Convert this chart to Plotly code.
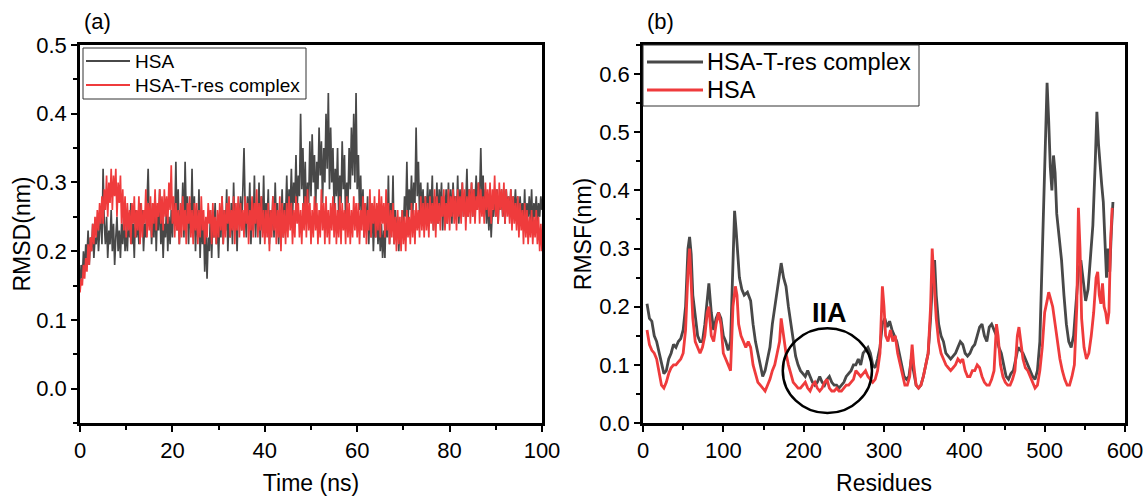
import plotly.graph_objects as go

# ---------------- Panel (a): RMSD vs time (0.25 ns sampling) ----------------
rmsd_hsa = [
    0.15, 0.18, 0.16, 0.20, 0.17, 0.21, 0.19, 0.23, 0.18, 0.22, 0.20, 0.24, 0.19, 0.22, 0.21, 0.25, 0.20, 0.23, 0.26, 0.21,
    0.32, 0.24, 0.21, 0.25, 0.19, 0.23, 0.21, 0.26, 0.20, 0.24, 0.18, 0.22, 0.25, 0.20, 0.23, 0.19, 0.24, 0.21, 0.26, 0.20,
    0.23, 0.20, 0.25, 0.22, 0.27, 0.21, 0.24, 0.19, 0.26, 0.22, 0.25, 0.21, 0.27, 0.23, 0.26, 0.20, 0.24, 0.22, 0.28, 0.32,
    0.24, 0.27, 0.21, 0.25, 0.22, 0.28, 0.20, 0.26, 0.23, 0.29, 0.21, 0.25, 0.19, 0.24, 0.22, 0.27, 0.20, 0.25, 0.21, 0.26,
    0.22, 0.27, 0.24, 0.33, 0.23, 0.29, 0.21, 0.26, 0.24, 0.30, 0.22, 0.33, 0.25, 0.28, 0.21, 0.27, 0.23, 0.32, 0.22, 0.28,
    0.20, 0.26, 0.22, 0.29, 0.19, 0.25, 0.21, 0.24, 0.17, 0.23, 0.16, 0.22, 0.20, 0.26, 0.19, 0.25, 0.22, 0.27, 0.21, 0.24,
    0.19, 0.25, 0.22, 0.28, 0.21, 0.26, 0.23, 0.29, 0.20, 0.25, 0.22, 0.27, 0.21, 0.30, 0.23, 0.26, 0.20, 0.27, 0.24, 0.28,
    0.23, 0.29, 0.35, 0.26, 0.22, 0.28, 0.24, 0.30, 0.21, 0.27, 0.23, 0.31, 0.22, 0.26, 0.24, 0.30, 0.21, 0.28, 0.23, 0.31,
    0.22, 0.27, 0.24, 0.29, 0.21, 0.26, 0.23, 0.28, 0.22, 0.30, 0.24, 0.27, 0.21, 0.26, 0.23, 0.29, 0.22, 0.27, 0.25, 0.31,
    0.24, 0.29, 0.26, 0.32, 0.25, 0.30, 0.27, 0.34, 0.26, 0.31, 0.28, 0.40, 0.29, 0.35, 0.26, 0.33, 0.24, 0.30, 0.27, 0.36,
    0.28, 0.37, 0.30, 0.34, 0.26, 0.33, 0.29, 0.38, 0.31, 0.36, 0.27, 0.35, 0.30, 0.40, 0.32, 0.43, 0.29, 0.38, 0.30, 0.35,
    0.26, 0.32, 0.28, 0.35, 0.25, 0.31, 0.27, 0.36, 0.29, 0.34, 0.24, 0.30, 0.27, 0.35, 0.29, 0.38, 0.31, 0.40, 0.30, 0.43,
    0.29, 0.34, 0.26, 0.31, 0.24, 0.29, 0.22, 0.27, 0.23, 0.28, 0.21, 0.26, 0.22, 0.27, 0.20, 0.25, 0.22, 0.26, 0.21, 0.25,
    0.20, 0.24, 0.19, 0.23, 0.19, 0.26, 0.22, 0.31, 0.21, 0.27, 0.23, 0.31, 0.21, 0.26, 0.22, 0.25, 0.20, 0.24, 0.21, 0.26,
    0.23, 0.28, 0.25, 0.33, 0.24, 0.29, 0.26, 0.31, 0.25, 0.30, 0.27, 0.38, 0.28, 0.33, 0.25, 0.30, 0.26, 0.29, 0.24, 0.28,
    0.25, 0.30, 0.24, 0.29, 0.26, 0.31, 0.23, 0.28, 0.25, 0.30, 0.24, 0.29, 0.26, 0.30, 0.23, 0.28, 0.25, 0.29, 0.24, 0.30,
    0.25, 0.29, 0.24, 0.30, 0.26, 0.28, 0.25, 0.31, 0.24, 0.29, 0.26, 0.30, 0.25, 0.28, 0.27, 0.32, 0.25, 0.29, 0.26, 0.30,
    0.25, 0.29, 0.27, 0.31, 0.26, 0.30, 0.28, 0.35, 0.27, 0.31, 0.25, 0.29, 0.24, 0.28, 0.23, 0.27, 0.22, 0.26, 0.25, 0.29,
    0.25, 0.29, 0.24, 0.28, 0.26, 0.29, 0.25, 0.28, 0.24, 0.29, 0.26, 0.28, 0.25, 0.29, 0.24, 0.28, 0.26, 0.29, 0.25, 0.28,
    0.24, 0.28, 0.25, 0.27, 0.24, 0.29, 0.23, 0.27, 0.25, 0.28, 0.24, 0.29, 0.23, 0.27, 0.25, 0.28, 0.24, 0.27, 0.25, 0.28,
    0.26,
]

rmsd_complex = [
    0.14, 0.16, 0.15, 0.18, 0.16, 0.19, 0.17, 0.21, 0.18, 0.22, 0.20, 0.24, 0.21, 0.25, 0.22, 0.26, 0.23, 0.27, 0.24, 0.28,
    0.24, 0.29, 0.26, 0.31, 0.25, 0.30, 0.27, 0.32, 0.26, 0.31, 0.28, 0.32, 0.25, 0.30, 0.27, 0.31, 0.24, 0.29, 0.23, 0.28,
    0.22, 0.27, 0.23, 0.26, 0.21, 0.27, 0.24, 0.28, 0.22, 0.26, 0.23, 0.28, 0.21, 0.27, 0.22, 0.26, 0.24, 0.29, 0.22, 0.27,
    0.23, 0.28, 0.22, 0.27, 0.24, 0.29, 0.23, 0.27, 0.25, 0.29, 0.24, 0.28, 0.23, 0.29, 0.25, 0.28, 0.24, 0.30, 0.26, 0.325,
    0.24, 0.28, 0.22, 0.27, 0.23, 0.26, 0.21, 0.27, 0.22, 0.28, 0.23, 0.26, 0.21, 0.27, 0.24, 0.28, 0.22, 0.26, 0.21, 0.27,
    0.23, 0.27, 0.21, 0.26, 0.22, 0.28, 0.23, 0.26, 0.21, 0.25, 0.22, 0.27, 0.24, 0.26, 0.21, 0.27, 0.22, 0.25, 0.21, 0.26,
    0.22, 0.27, 0.23, 0.28, 0.21, 0.26, 0.22, 0.27, 0.24, 0.28, 0.22, 0.26, 0.23, 0.28, 0.21, 0.27, 0.23, 0.28, 0.22, 0.27,
    0.23, 0.26, 0.22, 0.28, 0.24, 0.27, 0.21, 0.26, 0.23, 0.28, 0.22, 0.27, 0.24, 0.29, 0.22, 0.27, 0.23, 0.28, 0.22, 0.26,
    0.21, 0.26, 0.22, 0.27, 0.20, 0.26, 0.22, 0.28, 0.23, 0.27, 0.21, 0.26, 0.22, 0.28, 0.20, 0.27, 0.22, 0.26, 0.21, 0.27,
    0.22, 0.28, 0.23, 0.27, 0.21, 0.26, 0.22, 0.28, 0.24, 0.27, 0.22, 0.26, 0.21, 0.27, 0.23, 0.28, 0.22, 0.29, 0.23, 0.27,
    0.21, 0.26, 0.22, 0.28, 0.23, 0.27, 0.21, 0.26, 0.22, 0.29, 0.23, 0.27, 0.21, 0.28, 0.22, 0.26, 0.21, 0.27, 0.23, 0.28,
    0.22, 0.27, 0.21, 0.26, 0.22, 0.28, 0.21, 0.27, 0.23, 0.26, 0.21, 0.28, 0.22, 0.27, 0.21, 0.26, 0.22, 0.28, 0.23, 0.27,
    0.22, 0.27, 0.21, 0.26, 0.23, 0.28, 0.22, 0.27, 0.21, 0.26, 0.23, 0.29, 0.22, 0.27, 0.24, 0.28, 0.22, 0.27, 0.23, 0.29,
    0.22, 0.28, 0.24, 0.27, 0.22, 0.29, 0.23, 0.27, 0.21, 0.26, 0.22, 0.27, 0.21, 0.25, 0.20, 0.26, 0.21, 0.25, 0.20, 0.26,
    0.21, 0.25, 0.20, 0.26, 0.22, 0.25, 0.21, 0.27, 0.22, 0.26, 0.21, 0.27, 0.23, 0.26, 0.22, 0.28, 0.23, 0.27, 0.22, 0.28,
    0.23, 0.27, 0.22, 0.28, 0.24, 0.27, 0.23, 0.29, 0.22, 0.28, 0.24, 0.27, 0.23, 0.28, 0.25, 0.29, 0.23, 0.27, 0.24, 0.29,
    0.23, 0.28, 0.25, 0.29, 0.24, 0.28, 0.23, 0.29, 0.25, 0.28, 0.24, 0.30, 0.25, 0.29, 0.23, 0.28, 0.25, 0.29, 0.24, 0.30,
    0.25, 0.29, 0.24, 0.28, 0.26, 0.30, 0.24, 0.29, 0.25, 0.28, 0.24, 0.30, 0.26, 0.29, 0.25, 0.30, 0.24, 0.29, 0.26, 0.31,
    0.25, 0.29, 0.24, 0.30, 0.26, 0.29, 0.25, 0.30, 0.24, 0.29, 0.25, 0.28, 0.24, 0.29, 0.23, 0.28, 0.24, 0.27, 0.23, 0.28,
    0.22, 0.27, 0.23, 0.26, 0.21, 0.27, 0.22, 0.26, 0.21, 0.25, 0.22, 0.26, 0.21, 0.25, 0.22, 0.26, 0.21, 0.25, 0.20, 0.24,
    0.20,
]

time_step_ns = 0.25
time_hsa = [i * time_step_ns for i in range(len(rmsd_hsa))]
time_complex = [i * time_step_ns for i in range(len(rmsd_complex))]

# ---------------- Panel (b): RMSF vs residues ----------------
res_complex = [
    5, 8, 11, 14, 17, 20, 23, 26, 29, 32, 35, 38, 41, 44, 47, 50, 53, 56, 58, 60,
    62, 65, 68, 71, 74, 77, 80, 82, 85, 88, 91, 94, 97, 100, 103, 106, 109, 112, 114, 116,
    118, 120, 123, 126, 130, 134, 137, 140, 143, 146, 149, 152, 155, 158, 161, 164, 167, 170, 172, 175,
    178, 181, 184, 187, 190, 193, 196, 199, 202, 205, 208, 211, 214, 217, 220, 223, 226, 229, 232, 235,
    238, 241, 244, 247, 250, 253, 256, 259, 262, 265, 268, 271, 274, 277, 280, 283, 286, 289, 292, 295,
    298, 301, 304, 307, 310, 313, 316, 319, 322, 325, 328, 331, 334, 337, 340, 343, 346, 349, 352, 355,
    358, 361, 363, 365, 368, 371, 374, 377, 380, 383, 386, 389, 392, 395, 398, 401, 404, 407, 410, 413,
    416, 419, 422, 425, 428, 431, 434, 437, 440, 443, 446, 449, 452, 455, 458, 461, 464, 467, 470, 473,
    476, 479, 482, 485, 488, 491, 494, 497, 500, 503, 505, 507, 509, 511, 513, 515, 518, 521, 524, 527,
    530, 533, 536, 539, 542, 545, 548, 551, 554, 557, 560, 563, 565, 567, 569, 571, 573, 575, 577, 579,
    581, 583, 585,
]
rmsf_complex = [
    0.205, 0.18, 0.175, 0.15, 0.14, 0.12, 0.10, 0.085, 0.09, 0.11, 0.12, 0.135, 0.13, 0.14, 0.145, 0.16, 0.20, 0.30, 0.32, 0.29,
    0.22, 0.18, 0.15, 0.14, 0.14, 0.17, 0.21, 0.24, 0.19, 0.16, 0.18, 0.19, 0.18, 0.15, 0.14, 0.125, 0.14, 0.30, 0.365, 0.33,
    0.28, 0.25, 0.23, 0.22, 0.225, 0.21, 0.17, 0.14, 0.12, 0.10, 0.08, 0.09, 0.11, 0.13, 0.17, 0.20, 0.23, 0.26, 0.275, 0.25,
    0.235, 0.20, 0.17, 0.14, 0.115, 0.10, 0.09, 0.085, 0.08, 0.09, 0.08, 0.07, 0.065, 0.07, 0.08, 0.07, 0.065, 0.075, 0.08, 0.07,
    0.065, 0.065, 0.06, 0.065, 0.07, 0.08, 0.085, 0.09, 0.10, 0.10, 0.11, 0.10, 0.12, 0.125, 0.13, 0.12, 0.10, 0.095, 0.11, 0.13,
    0.17, 0.18, 0.165, 0.175, 0.16, 0.15, 0.14, 0.12, 0.10, 0.08, 0.075, 0.08, 0.11, 0.09, 0.065, 0.06, 0.065, 0.08, 0.10, 0.12,
    0.18, 0.26, 0.28, 0.22, 0.17, 0.15, 0.14, 0.12, 0.115, 0.11, 0.115, 0.12, 0.13, 0.14, 0.135, 0.12, 0.115, 0.12, 0.13, 0.135,
    0.15, 0.165, 0.17, 0.15, 0.14, 0.165, 0.17, 0.16, 0.15, 0.13, 0.12, 0.10, 0.08, 0.075, 0.085, 0.09, 0.11, 0.13, 0.125, 0.12,
    0.11, 0.10, 0.09, 0.08, 0.075, 0.09, 0.14, 0.30, 0.42, 0.585, 0.52, 0.44, 0.40, 0.46, 0.43, 0.36, 0.32, 0.28, 0.22, 0.17,
    0.14, 0.13, 0.15, 0.20, 0.26, 0.28, 0.24, 0.21, 0.23, 0.28, 0.34, 0.45, 0.535, 0.48, 0.44, 0.41, 0.38, 0.30, 0.25, 0.30,
    0.26, 0.33, 0.38,
]

res_hsa = [
    5, 8, 11, 14, 17, 20, 23, 26, 29, 32, 35, 38, 41, 44, 47, 50, 53, 56, 58, 60,
    62, 65, 68, 71, 74, 77, 80, 82, 85, 88, 91, 94, 97, 100, 103, 106, 109, 112, 115, 117,
    119, 122, 125, 128, 131, 134, 137, 140, 143, 146, 149, 152, 155, 158, 161, 164, 167, 170, 172, 175,
    178, 181, 184, 187, 190, 193, 196, 199, 202, 205, 208, 211, 214, 217, 220, 223, 226, 229, 232, 235,
    238, 241, 244, 247, 250, 253, 256, 259, 262, 265, 268, 271, 274, 277, 280, 283, 286, 289, 292, 295,
    298, 300, 302, 305, 308, 311, 314, 317, 320, 323, 326, 329, 332, 335, 337, 340, 343, 346, 349, 352,
    355, 358, 360, 362, 365, 368, 371, 374, 377, 380, 383, 386, 389, 392, 395, 398, 401, 404, 407, 410,
    413, 416, 419, 422, 425, 428, 431, 434, 437, 440, 442, 445, 448, 451, 454, 457, 460, 463, 466, 468,
    470, 473, 476, 479, 482, 485, 488, 491, 494, 497, 500, 503, 505, 507, 510, 513, 516, 519, 522, 525,
    528, 531, 534, 537, 540, 542, 544, 546, 549, 552, 555, 558, 561, 564, 566, 568, 570, 572, 574, 576,
    578, 580, 582, 584,
]
rmsf_hsa = [
    0.16, 0.135, 0.125, 0.12, 0.11, 0.09, 0.065, 0.06, 0.07, 0.085, 0.095, 0.10, 0.10, 0.105, 0.11, 0.12, 0.16, 0.26, 0.30, 0.24,
    0.18, 0.14, 0.13, 0.12, 0.13, 0.15, 0.19, 0.20, 0.15, 0.14, 0.17, 0.19, 0.17, 0.12, 0.11, 0.10, 0.09, 0.20, 0.235, 0.22,
    0.17, 0.15, 0.14, 0.13, 0.14, 0.13, 0.10, 0.085, 0.07, 0.065, 0.06, 0.055, 0.065, 0.075, 0.09, 0.10, 0.12, 0.14, 0.18, 0.15,
    0.12, 0.10, 0.085, 0.07, 0.065, 0.06, 0.06, 0.065, 0.07, 0.06, 0.055, 0.065, 0.07, 0.06, 0.055, 0.06, 0.07, 0.075, 0.06, 0.055,
    0.055, 0.06, 0.055, 0.055, 0.06, 0.065, 0.065, 0.07, 0.075, 0.09, 0.085, 0.08, 0.085, 0.09, 0.08, 0.075, 0.07, 0.075, 0.09, 0.12,
    0.235, 0.20, 0.15, 0.14, 0.16, 0.14, 0.15, 0.12, 0.10, 0.08, 0.065, 0.065, 0.08, 0.135, 0.10, 0.065, 0.06, 0.065, 0.08, 0.10,
    0.12, 0.20, 0.30, 0.25, 0.18, 0.14, 0.12, 0.11, 0.10, 0.095, 0.09, 0.095, 0.10, 0.11, 0.105, 0.11, 0.09, 0.08, 0.08, 0.09,
    0.09, 0.10, 0.095, 0.08, 0.07, 0.065, 0.065, 0.075, 0.09, 0.17, 0.15, 0.10, 0.08, 0.07, 0.065, 0.065, 0.075, 0.09, 0.15, 0.165,
    0.14, 0.11, 0.095, 0.09, 0.08, 0.07, 0.06, 0.065, 0.09, 0.13, 0.19, 0.21, 0.225, 0.215, 0.20, 0.17, 0.14, 0.11, 0.09, 0.075,
    0.065, 0.065, 0.08, 0.10, 0.20, 0.37, 0.30, 0.18, 0.13, 0.11, 0.12, 0.15, 0.19, 0.25, 0.26, 0.22, 0.205, 0.24, 0.20, 0.19,
    0.17, 0.19, 0.31, 0.37,
]

# ---------------- styling ----------------
GRAY = "#484848"
RED = "#ef3b3c"
FONT = "Liberation Sans, Arial, sans-serif"

W, H = 1147, 496
ML, MR, MT, MB = 80, 22, 45, 73          # plot-area margins (px)
PW, PH = W - ML - MR, H - MT - MB


def fx(px):
    """figure pixel x -> paper x (plot area based)"""
    return (px - ML) / PW


def fy(py):
    """figure pixel y (from top) -> paper y"""
    return (H - MB - py) / PH


fig = go.Figure()

fig.add_trace(go.Scatter(x=time_hsa, y=rmsd_hsa, mode="lines", name="HSA",
                         line=dict(color=GRAY, width=1.7), showlegend=False,
                         xaxis="x", yaxis="y"))
fig.add_trace(go.Scatter(x=time_complex, y=rmsd_complex, mode="lines", name="HSA-T-res complex",
                         line=dict(color=RED, width=1.7), showlegend=False,
                         xaxis="x", yaxis="y"))
fig.add_trace(go.Scatter(x=res_complex, y=rmsf_complex, mode="lines", name="HSA-T-res complex",
                         line=dict(color=GRAY, width=2.8), showlegend=False,
                         xaxis="x2", yaxis="y2"))
fig.add_trace(go.Scatter(x=res_hsa, y=rmsf_hsa, mode="lines", name="HSA",
                         line=dict(color=RED, width=2.8), showlegend=False,
                         xaxis="x2", yaxis="y2"))

axis_common = dict(
    showline=True, linewidth=2.5, linecolor="black", mirror=True,
    ticks="outside", ticklen=6, tickwidth=2, tickcolor="black",
    showgrid=False, zeroline=False, automargin=False,
    tickfont=dict(family=FONT, size=22, color="black"),
)
minor_common = dict(ticks="outside", ticklen=4, tickwidth=2, tickcolor="black", showgrid=False)
title_font = dict(family=FONT, size=23, color="black")

fig.update_layout(
    width=W, height=H,
    margin=dict(l=ML, r=MR, t=MT, b=MB, pad=0),
    paper_bgcolor="white", plot_bgcolor="white",
    font=dict(family=FONT, color="black"),
    showlegend=False,
    xaxis=dict(domain=[0, fx(542)], range=[0, 100], dtick=20, anchor="y",
               minor=dict(dtick=10, **minor_common),
               title=dict(text="Time (ns)", font=title_font, standoff=14),
               **axis_common),
    yaxis=dict(domain=[0, 1], range=[-0.05, 0.5], dtick=0.1, tick0=0,
               tickformat=".1f", anchor="x",
               minor=dict(dtick=0.05, tick0=0, **minor_common),
               title=dict(text="RMSD(nm)", font=title_font, standoff=0),
               **axis_common),
    xaxis2=dict(domain=[fx(643), 1], range=[0, 600], dtick=100, anchor="y2",
                minor=dict(dtick=50, **minor_common),
                title=dict(text="Residues", font=title_font, standoff=14),
                **axis_common),
    yaxis2=dict(domain=[0, 1], range=[0, 0.65], dtick=0.1, tick0=0,
                tickformat=".1f", anchor="x2",
                minor=dict(dtick=0.05, tick0=0, **minor_common),
                title=dict(text="RMSF(nm)", font=title_font, standoff=2),
                **axis_common),
)

# ---------------- legends (drawn as boxes in paper space) ----------------
def add_legend(box, entries, font_size, line_w):
    x0, y0, x1, y1 = box
    fig.add_shape(type="rect", xref="paper", yref="paper",
                  x0=fx(x0), x1=fx(x1), y0=fy(y1), y1=fy(y0),
                  line=dict(color="#333333", width=1), fillcolor="white", layer="above")
    for (lx0, lx1, ly, tx, label, color) in entries:
        fig.add_shape(type="line", xref="paper", yref="paper",
                      x0=fx(lx0), x1=fx(lx1), y0=fy(ly), y1=fy(ly),
                      line=dict(color=color, width=line_w), layer="above")
        fig.add_annotation(text=label, xref="paper", yref="paper", x=fx(tx), y=fy(ly),
                           xanchor="left", yanchor="middle", showarrow=False,
                           font=dict(family=FONT, size=font_size, color="black"))


add_legend((83, 48, 306, 99),
           [(86, 130, 61, 133, "HSA", GRAY), (86, 130, 85, 133, "HSA-T-res complex", RED)],
           19, 2)
add_legend((643, 45, 919, 106),
           [(647, 703, 62, 705, "HSA-T-res complex", GRAY), (647, 703, 90, 705, "HSA", RED)],
           23.5, 3)

# Panel labels
fig.add_annotation(text="(a)", x=fx(82), y=fy(22), xref="paper", yref="paper",
                   xanchor="left", yanchor="middle", showarrow=False,
                   font=dict(family=FONT, size=22, color="black"))
fig.add_annotation(text="(b)", x=fx(645), y=fy(22), xref="paper", yref="paper",
                   xanchor="left", yanchor="middle", showarrow=False,
                   font=dict(family=FONT, size=22, color="black"))

# IIA region marker
fig.add_shape(type="circle", xref="x2", yref="y2", x0=174, x1=285, y0=0.017, y1=0.163,
              line=dict(color="black", width=2.5))
fig.add_annotation(text="<b>IIA</b>", x=232, y=0.19, xref="x2", yref="y2", showarrow=False,
                   font=dict(family=FONT, size=27, color="black"))

fig.write_html("out.html")
